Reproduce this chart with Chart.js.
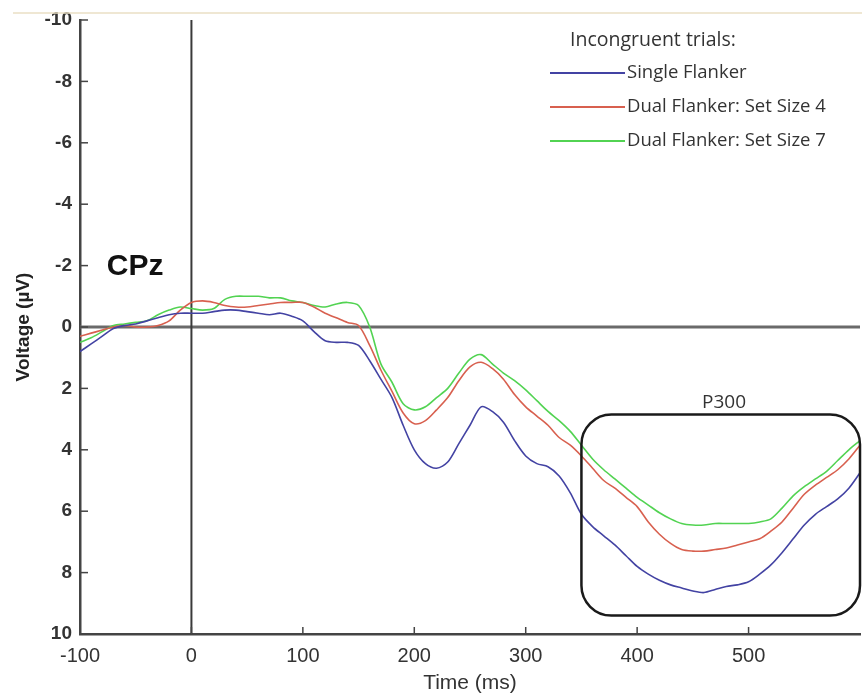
<!DOCTYPE html>
<html lang="en">
<head>
<meta charset="UTF-8">
<title>CPz ERP - Incongruent trials</title>
<script src="https://cdn.jsdelivr.net/npm/chart.js"></script>
<style>
  html, body { margin: 0; padding: 0; background: #fff; }
</style>
</head>
<body>
<canvas id="erpChart" width="862" height="696"></canvas>

<script>
// time axis (ms) and voltages (µV)
const timeMs = [-100,-90,-80,-70,-60,-50,-40,-30,-20,-10,0,10,20,30,40,50,60,70,80,90,
  100,110,120,130,140,150,160,170,180,190,200,210,220,230,240,250,260,270,280,290,
  300,310,320,330,340,350,360,370,380,390,400,410,420,430,440,450,460,470,480,490,
  500,510,520,530,540,550,560,570,580,590,600];

const singleFlanker = [0.8,0.55,0.3,0.05,-0.05,-0.1,-0.2,-0.3,-0.4,-0.45,-0.45,-0.45,-0.5,-0.55,-0.55,-0.5,-0.45,-0.4,-0.45,-0.35,
  -0.2,0.15,0.45,0.5,0.5,0.6,1.1,1.7,2.3,3.2,4.0,4.45,4.6,4.4,3.8,3.2,2.6,2.75,3.1,3.7,
  4.2,4.45,4.55,4.85,5.4,6.1,6.5,6.8,7.1,7.45,7.8,8.05,8.25,8.4,8.5,8.6,8.65,8.55,8.45,8.4,
  8.3,8.05,7.75,7.35,6.9,6.45,6.1,5.85,5.6,5.25,4.75];

const dualSetSize4 = [0.3,0.2,0.1,0.0,-0.05,0.0,0.0,-0.05,-0.2,-0.55,-0.8,-0.85,-0.8,-0.7,-0.65,-0.65,-0.7,-0.75,-0.8,-0.8,
  -0.8,-0.65,-0.45,-0.3,-0.15,-0.05,0.6,1.4,2.1,2.8,3.15,3.05,2.7,2.3,1.75,1.3,1.15,1.35,1.7,2.2,
  2.6,2.9,3.2,3.6,3.85,4.2,4.6,5.0,5.25,5.55,5.85,6.35,6.75,7.05,7.25,7.3,7.3,7.25,7.2,7.1,
  7.0,6.9,6.65,6.35,5.9,5.45,5.15,4.9,4.65,4.3,3.85];

const dualSetSize7 = [0.5,0.35,0.15,-0.05,-0.1,-0.15,-0.2,-0.4,-0.55,-0.65,-0.6,-0.55,-0.6,-0.9,-1.0,-1.0,-1.0,-0.95,-0.95,-0.85,
  -0.8,-0.7,-0.65,-0.75,-0.8,-0.7,0.0,1.2,1.8,2.5,2.7,2.6,2.3,2.0,1.5,1.05,0.9,1.2,1.5,1.75,
  2.05,2.4,2.75,3.05,3.4,3.85,4.3,4.65,4.95,5.25,5.55,5.8,6.05,6.25,6.4,6.45,6.45,6.4,6.4,6.4,
  6.4,6.35,6.25,5.9,5.5,5.2,4.95,4.7,4.35,4.0,3.7];

const seriesNames = ['Single Flanker', 'Dual Flanker: Set Size 4', 'Dual Flanker: Set Size 7'];
const seriesColors = ['#4343a3', '#d8604f', '#52d352'];
const xTicks = [-100, 0, 100, 200, 300, 400, 500];
const yTicks = [-10, -8, -6, -4, -2, 0, 2, 4, 6, 8, 10];

// P300 window
const p300Box = { x0: 350, x1: 600, y0: 2.85, y1: 9.4 };

const seriesValues = [singleFlanker, dualSetSize4, dualSetSize7];
const datasets = seriesValues.map((vals, i) => ({
    label: seriesNames[i],
    data: timeMs.map((t, j) => ({ x: t, y: vals[j] })),
    borderColor: seriesColors[i],
    borderWidth: 1.6,
    pointRadius: 0,
    tension: 0.3,
    fill: false
}));

const extras = {
    id: 'extras',
    beforeDatasetsDraw(chart) {
        const { ctx, chartArea: a, scales: { x, y } } = chart;
        ctx.save();
        // top border line of the image
        ctx.strokeStyle = '#eadfc4';
        ctx.lineWidth = 1.5;
        ctx.beginPath(); ctx.moveTo(13, 13); ctx.lineTo(862, 13); ctx.stroke();
        // zero line
        ctx.strokeStyle = '#6a6a6a';
        ctx.lineWidth = 3;
        ctx.beginPath(); ctx.moveTo(a.left, y.getPixelForValue(0)); ctx.lineTo(a.right, y.getPixelForValue(0)); ctx.stroke();
        // stimulus onset
        ctx.strokeStyle = '#3a3a3a';
        ctx.lineWidth = 2;
        ctx.beginPath(); ctx.moveTo(x.getPixelForValue(0), a.top); ctx.lineTo(x.getPixelForValue(0), a.bottom); ctx.stroke();
        // inward ticks
        ctx.strokeStyle = '#444';
        ctx.lineWidth = 1.5;
        yTicks.forEach(v => {
            const py = y.getPixelForValue(v);
            ctx.beginPath(); ctx.moveTo(a.left, py); ctx.lineTo(a.left + 8, py); ctx.stroke();
        });
        xTicks.forEach(v => {
            const px = x.getPixelForValue(v);
            ctx.beginPath(); ctx.moveTo(px, a.bottom); ctx.lineTo(px, a.bottom - 7); ctx.stroke();
        });
        ctx.restore();
    },
    afterDatasetsDraw(chart) {
        const { ctx, scales: { x, y } } = chart;
        ctx.save();
        // P300 box
        const bx0 = x.getPixelForValue(p300Box.x0), bx1 = x.getPixelForValue(p300Box.x1);
        const by0 = y.getPixelForValue(p300Box.y0), by1 = y.getPixelForValue(p300Box.y1);
        ctx.strokeStyle = '#1a1a1a';
        ctx.lineWidth = 2.5;
        ctx.beginPath();
        ctx.roundRect(bx0, by0, bx1 - bx0, by1 - by0, 30);
        ctx.stroke();
        ctx.fillStyle = '#333';
        ctx.font = '19px "Open Sans"';
        ctx.textAlign = 'center';
        ctx.textBaseline = 'middle';
        ctx.fillText('P300', x.getPixelForValue(478), by0 - 12);

        // electrode label
        ctx.fillStyle = '#111';
        ctx.font = 'bold 30px "Liberation Sans"';
        ctx.textAlign = 'left';
        ctx.textBaseline = 'middle';
        ctx.fillText('CPz', x.getPixelForValue(-76), y.getPixelForValue(-1.95));

        // legend
        ctx.fillStyle = '#333';
        ctx.font = '19.5px "Open Sans"';
        ctx.fillText('Incongruent trials:', 570, 40);
        ctx.font = '18.5px "Open Sans"';
        seriesNames.forEach((name, i) => {
            const ly = 73 + i * 34;
            ctx.strokeStyle = seriesColors[i];
            ctx.lineWidth = 2.2;
            ctx.beginPath(); ctx.moveTo(550, ly); ctx.lineTo(625, ly); ctx.stroke();
            ctx.fillStyle = '#333';
            ctx.fillText(name, 627, ly);
        });
        ctx.restore();
    }
};

new Chart(document.getElementById('erpChart'), {
    type: 'line',
    data: { datasets: datasets },
    options: {
        responsive: false,
        animation: false,
        layout: { padding: { top: 20, right: 2, left: 0, bottom: 0 } },
        plugins: { legend: { display: false }, tooltip: { enabled: false } },
        scales: {
            x: {
                type: 'linear',
                min: -100,
                max: 600,
                afterBuildTicks: s => { s.ticks = xTicks.map(v => ({ value: v })); },
                afterFit: s => { s.height = 62; },
                grid: { display: false, drawTicks: false },
                border: { display: true, color: '#444', width: 2.5 },
                ticks: { font: { family: 'Liberation Sans', size: 20 }, color: '#333', padding: 10, maxRotation: 0 },
                title: { display: true, text: 'Time (ms)', font: { family: 'Liberation Sans', size: 21 }, color: '#333', padding: { top: 0, bottom: 0 } }
            },
            y: {
                reverse: true,
                min: -10,
                max: 10,
                afterBuildTicks: s => { s.ticks = yTicks.map(v => ({ value: v })); },
                afterFit: s => { s.width = 80; },
                grid: { display: false, drawTicks: false },
                border: { display: true, color: '#444', width: 2.5 },
                ticks: { font: { family: 'Liberation Sans', size: 19, weight: 'bold' }, color: '#333', padding: 8 },
                title: { display: true, text: 'Voltage (µV)', font: { family: 'Liberation Sans', size: 19, weight: 'bold' }, color: '#222', padding: { top: 12, bottom: 0 } }
            }
        }
    },
    plugins: [extras]
});
</script>
</body>
</html>
